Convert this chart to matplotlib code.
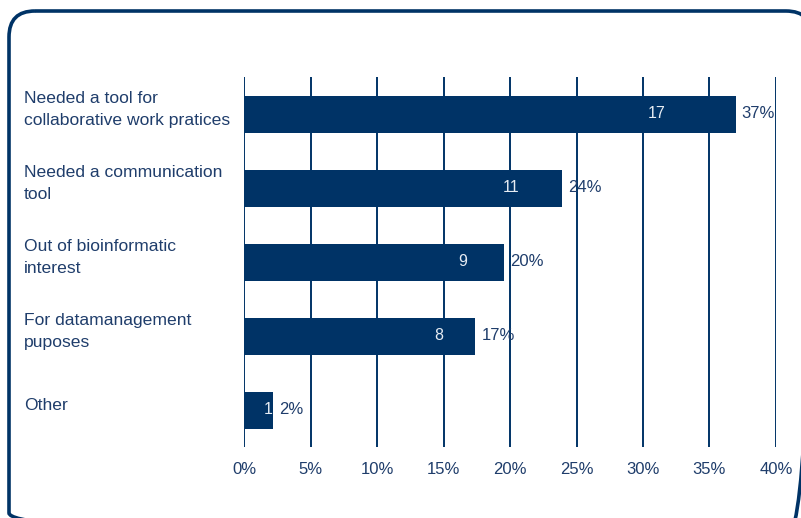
import matplotlib.pyplot as plt
from matplotlib.patches import FancyBboxPatch
from matplotlib.transforms import blended_transform_factory

plt.rcParams['font.family'] = ['Liberation Sans', 'DejaVu Sans']

categories = ["Needed a tool for\ncollaborative work pratices",
              "Needed a communication\ntool",
              "Out of bioinformatic\ninterest",
              "For datamanagement\npuposes",
              "Other"]
counts = [17, 11, 9, 8, 1]
total = 46
xticks = [0, 5, 10, 15, 20, 25, 30, 35, 40]

navy = '#003366'
text_col = '#1f3d6b'

shares = [c / total * 100 for c in counts]

fig = plt.figure(figsize=(8.01, 5.18), dpi=100)

# rounded frame, drawn on a pixel-sized background axes
bg = fig.add_axes([0, 0, 1, 1])
bg.set_xlim(0, 801)
bg.set_ylim(518, 0)
bg.axis('off')
bg.add_patch(FancyBboxPatch((9, 11), 803, 528,
                            boxstyle="round,pad=0,rounding_size=26",
                            fill=False, edgecolor=navy, linewidth=2.6))

ax = fig.add_axes([244/801, 1 - 447/518, (776 - 244)/801, (447 - 77)/518])
ax.patch.set_alpha(0)

ypos = list(range(len(categories)))
ax.barh(ypos, shares, height=0.5, color=navy, zorder=3)

for y, c, s in zip(ypos, counts, shares):
    ax.text(s * 0.84, y, str(c), color='#e6ecf3', fontsize=11.5,
            ha='center', va='center', zorder=4)
    ax.text(s + 0.45, y, f"{round(s)}%", color=text_col, fontsize=12,
            ha='left', va='center', zorder=4)

ax.set_xlim(0, 40)
ax.set_ylim(len(categories) - 0.5, -0.5)
ax.set_xticks(xticks)
ax.set_xticklabels([f"{t}%" for t in xticks], color=text_col, fontsize=12)
ax.tick_params(axis='x', length=0, pad=11)
ax.set_yticks([])
for sp in ax.spines.values():
    sp.set_visible(False)
ax.grid(axis='x', color=navy, linewidth=1.4, zorder=1)

# category labels, left aligned at a fixed figure position
trans = blended_transform_factory(fig.transFigure, ax.transData)
for y, lab in zip(ypos, categories):
    ax.text(24/801, y - 0.06, lab, transform=trans, ha='left', va='center',
            color=text_col, fontsize=12.6, linespacing=1.6)

fig.savefig('out.png', dpi=100)
